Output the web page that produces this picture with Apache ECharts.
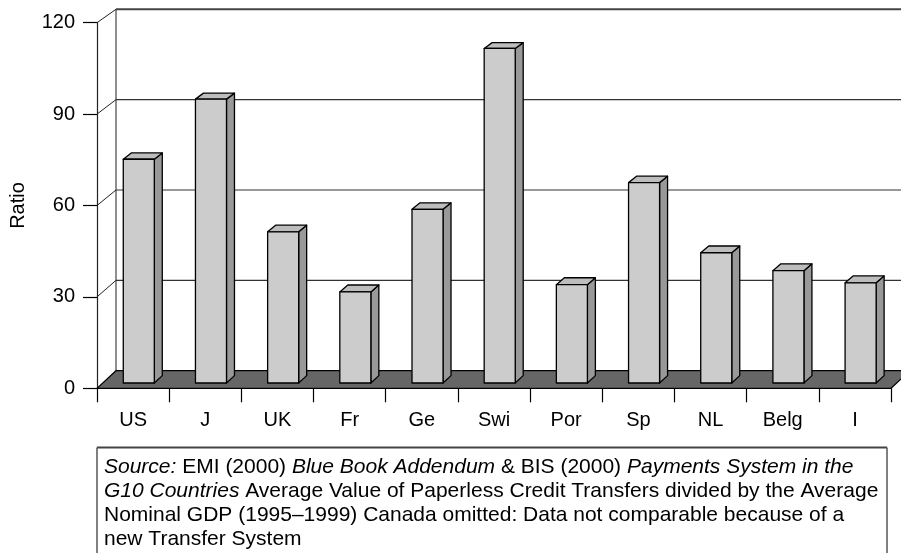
<!DOCTYPE html>
<html>
<head>
<meta charset="utf-8">
<script src="https://cdn.jsdelivr.net/npm/echarts@6/dist/echarts.min.js"></script>
<style>
  html, body { margin: 0; padding: 0; background: #fff; }
  #chart { width: 901px; height: 553px; }
</style>
</head>
<body>
<div id="chart"></div>
<script>
// data
var countries = ['US', 'J', 'UK', 'Fr', 'Ge', 'Swi', 'Por', 'Sp', 'NL', 'Belg', 'I'];
var ratios = [73.7, 93.5, 49.8, 30.0, 57.2, 110.2, 32.4, 66.0, 42.9, 37.0, 33.0];
var yTicks = [0, 30, 60, 90, 120];

var FONT = '"Liberation Sans", Arial, Helvetica, sans-serif';

// fake 3d: how far the back wall sits from the front plane
var DEPTH_DX = 19;
var DEPTH_DY = 17.6;
var SHRINK = 0.00065;   // depth gets a bit shallower towards the top
var BAR_HALF = 0.215;   // half bar width, as part of a category
var BAR_D0 = 0.3, BAR_D1 = 0.72;

function makeProj(api) {
  var baseY = api.coord([0, 0])[1];
  return function (x, y, d) {
    var dy = DEPTH_DY * (1 - SHRINK * (baseY - y));
    return [x + DEPTH_DX * d, y - dy * d];
  };
}

function renderWalls(params, api) {
  var proj = makeProj(api);
  var band = api.size([1, 0])[0];
  var xL = api.coord([0, 0])[0] - band / 2;
  var xR = api.coord([countries.length - 1, 0])[0] + band / 2;
  var y0 = api.coord([0, 0])[1];
  var yTop = api.coord([0, yTicks[yTicks.length - 1]])[1];
  var kids = [];

  // back wall left edge
  var bb = proj(xL, y0, 1), bt = proj(xL, yTop, 1);
  kids.push({ type: 'line', shape: { x1: bb[0], y1: bb[1], x2: bt[0], y2: bt[1] },
    style: { stroke: '#444', lineWidth: 1.2 } });

  yTicks.forEach(function (v) {
    var fy = api.coord([0, v])[1];
    var a = proj(xL, fy, 0), b = proj(xL, fy, 1), c = proj(xR, fy, 1);
    if (v > 0) {
      kids.push({ type: 'line', shape: { x1: a[0], y1: a[1], x2: b[0], y2: b[1] },
        style: { stroke: '#222', lineWidth: 1 } });
      kids.push({ type: 'line', shape: { x1: b[0], y1: b[1], x2: c[0], y2: c[1] },
        style: { stroke: v === 120 ? '#444' : '#333', lineWidth: v === 120 ? 2 : 1.1 } });
    }
  });

  // floor
  var f = [proj(xL, y0, 0), proj(xR, y0, 0), proj(xR, y0, 1), proj(xL, y0, 1)];
  kids.push({ type: 'polygon', shape: { points: f },
    style: { fill: '#666666', stroke: '#000', lineWidth: 1.2 } });

  return { type: 'group', children: kids };
}

function renderBar(params, api) {
  var proj = makeProj(api);
  var i = api.value(0), v = api.value(1);
  var base = api.coord([i, 0]);
  var top = api.coord([i, v]);
  var hw = api.size([1, 0])[0] * BAR_HALF;
  var xl = base[0] - hw, xr = base[0] + hw;
  var yb = base[1], yt = top[1];
  var st = { stroke: '#000', lineWidth: 1.3, lineJoin: 'round' };
  function face(pts, fill) {
    return { type: 'polygon', shape: { points: pts },
      style: Object.assign({ fill: fill }, st) };
  }
  return {
    type: 'group',
    children: [
      face([proj(xr, yb, BAR_D0), proj(xr, yb, BAR_D1), proj(xr, yt, BAR_D1), proj(xr, yt, BAR_D0)], '#999999'),
      face([proj(xl, yt, BAR_D0), proj(xr, yt, BAR_D0), proj(xr, yt, BAR_D1), proj(xl, yt, BAR_D1)], '#bdbdbd'),
      face([proj(xl, yb, BAR_D0), proj(xr, yb, BAR_D0), proj(xr, yt, BAR_D0), proj(xl, yt, BAR_D0)], '#cccccc')
    ]
  };
}

var chart = echarts.init(document.getElementById('chart'));
chart.setOption({
  animation: false,
  backgroundColor: '#fff',
  textStyle: { fontFamily: FONT },
  grid: { left: 97, right: 10, top: 22.7, bottom: 164.7, containLabel: false, outerBoundsMode: 'none' },
  xAxis: {
    type: 'category',
    data: countries,
    boundaryGap: true,
    axisLine: { show: true, lineStyle: { color: '#000', width: 1.2 } },
    axisTick: { show: true, length: 14, lineStyle: { color: '#000', width: 1.2 } },
    axisLabel: { color: '#000', fontSize: 20, margin: 22, fontFamily: FONT },
    splitLine: { show: false }
  },
  yAxis: {
    type: 'value',
    min: 0,
    max: 120,
    interval: 30,
    name: 'Ratio',
    nameLocation: 'middle',
    nameRotate: 90,
    nameGap: 69,
    nameTextStyle: { color: '#000', fontSize: 20, fontFamily: FONT },
    axisLine: { show: true, lineStyle: { color: '#222', width: 1.2 } },
    axisTick: { show: true, length: 14, lineStyle: { color: '#000', width: 1.2 } },
    axisLabel: { color: '#000', fontSize: 20, margin: 22, fontFamily: FONT },
    splitLine: { show: false }
  },
  series: [
    {
      type: 'custom',
      name: 'walls',
      clip: false,
      silent: true,
      z: 1,
      data: [[0, 0]],
      renderItem: renderWalls
    },
    {
      type: 'custom',
      name: 'Ratio',
      clip: false,
      z: 3,
      data: ratios.map(function (v, i) { return [i, v]; }),
      encode: { x: 0, y: 1 },
      renderItem: renderBar
    }
  ],
  graphic: [
    {
      type: 'rect',
      shape: { x: 97, y: 447.5, width: 790, height: 140 },
      style: { fill: '#fff', stroke: '#000', lineWidth: 1 }
    },
    {
      type: 'line',
      shape: { x1: 97, y1: 447.5, x2: 887, y2: 447.5 },
      style: { stroke: '#444', lineWidth: 2 }
    },
    {
      type: 'text',
      x: 104,
      y: 455,
      style: {
        text: '{i|Source:} EMI (2000) {i|Blue Book Addendum} & BIS (2000) {i|Payments System in the}\n' +
              '{i|G10 Countries} Average Value of Paperless Credit Transfers divided by the Average\n' +
              'Nominal GDP (1995\u20131999) Canada omitted: Data not comparable because of a\n' +
              'new Transfer System',
        fill: '#000',
        font: '21px ' + FONT,
        lineHeight: 24,
        verticalAlign: 'top',
        rich: {
          i: { fontStyle: 'italic', fontSize: 21, fontFamily: FONT, fill: '#000', lineHeight: 24 }
        }
      }
    }
  ]
});
</script>
</body>
</html>
